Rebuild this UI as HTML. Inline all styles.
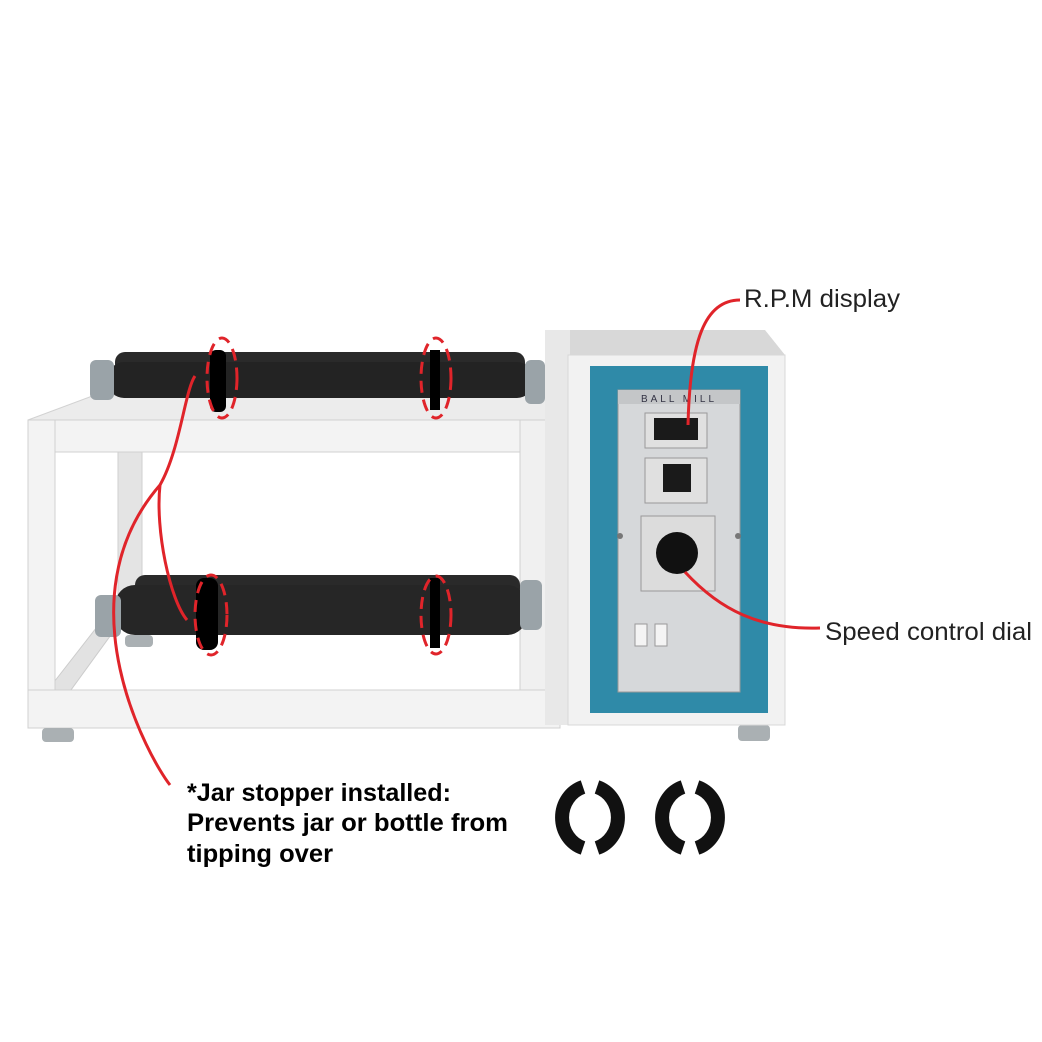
<!DOCTYPE html>
<html><head><meta charset="utf-8"><style>
html,body{margin:0;padding:0;background:#fff;}
svg{display:block;}
text{font-family:"Liberation Sans","DejaVu Sans",sans-serif;}
</style></head><body>
<svg width="1042" height="1042" viewBox="0 0 1042 1042" xmlns="http://www.w3.org/2000/svg">
<rect width="1042" height="1042" fill="#fff"/>
<!-- back frame -->
<rect x="118" y="398" width="24" height="212" fill="#e4e4e4" stroke="#cfcfcf"/>
<polygon points="28,420 95,395 560,395 560,420" fill="#ececec" stroke="#d2d2d2"/>
<polygon points="40,700 118,600 132,606 60,705" fill="#e2e2e2" stroke="#ccc"/>
<!-- top rollers -->
<rect x="115" y="352" width="410" height="22" rx="10" fill="#2a2a2a"/>
<rect x="108" y="362" width="425" height="36" rx="16" fill="#232323"/>
<rect x="90" y="360" width="24" height="40" rx="6" fill="#9aa3a8"/>
<rect x="525" y="360" width="20" height="44" rx="6" fill="#9aa3a8"/>
<!-- front frame -->
<rect x="28" y="420" width="532" height="32" fill="#f3f3f3" stroke="#d0d0d0"/>
<rect x="28" y="420" width="27" height="308" fill="#f3f3f3" stroke="#d0d0d0"/>
<rect x="520" y="420" width="30" height="308" fill="#f0f0f0" stroke="#d0d0d0"/>
<!-- bottom rollers -->
<rect x="135" y="575" width="385" height="24" rx="10" fill="#2a2a2a"/>
<rect x="115" y="585" width="412" height="50" rx="20" fill="#262626"/>
<rect x="95" y="595" width="26" height="42" rx="6" fill="#9aa3a8"/>
<rect x="520" y="580" width="22" height="50" rx="6" fill="#9aa3a8"/>
<rect x="125" y="635" width="28" height="12" rx="4" fill="#aab0b3"/>
<rect x="28" y="690" width="532" height="38" fill="#f3f3f3" stroke="#d0d0d0"/>
<rect x="42" y="728" width="32" height="14" rx="4" fill="#aab0b3"/>
<rect x="738" y="725" width="32" height="16" rx="4" fill="#aab0b3"/>
<!-- clamps on rollers -->
<rect x="210" y="350" width="16" height="62" rx="6" fill="#000"/>
<rect x="430" y="350" width="10" height="60" fill="#000"/>
<rect x="196" y="578" width="22" height="72" rx="8" fill="#000"/>
<rect x="430" y="578" width="10" height="70" fill="#000"/>
<g fill="none" stroke="#e0242a" stroke-width="3" stroke-dasharray="12,7">
<ellipse cx="222" cy="378" rx="15" ry="40"/>
<ellipse cx="436" cy="378" rx="15" ry="40"/>
<ellipse cx="211" cy="615" rx="16" ry="40"/>
<ellipse cx="436" cy="615" rx="15" ry="39"/>
</g>
<!-- cabinet -->
<polygon points="545,330 765,330 785,355 568,355" fill="#d8d8d8"/>
<rect x="545" y="330" width="25" height="395" fill="#e8e8e8"/>
<rect x="568" y="355" width="217" height="370" fill="#f2f2f2" stroke="#d8d8d8"/>
<rect x="590" y="366" width="178" height="347" fill="#2f8aa8"/>
<rect x="618" y="390" width="122" height="302" fill="#d6d8da" stroke="#999"/>
<rect x="618" y="390" width="122" height="14" fill="#c4c6c8"/>
<text x="679" y="402" font-size="10" text-anchor="middle" fill="#334" letter-spacing="3">BALL MILL</text>
<rect x="645" y="413" width="62" height="35" fill="#e0e0e0" stroke="#999"/>
<rect x="654" y="418" width="44" height="22" fill="#1a1a1a"/>
<rect x="645" y="458" width="62" height="45" fill="#e0e0e0" stroke="#999"/>
<rect x="663" y="464" width="28" height="28" fill="#1a1a1a"/>
<rect x="641" y="516" width="74" height="75" fill="#dcdcdc" stroke="#999"/>
<circle cx="677" cy="553" r="21" fill="#111"/>
<rect x="635" y="624" width="12" height="22" fill="#f4f4f4" stroke="#999"/>
<rect x="655" y="624" width="12" height="22" fill="#f4f4f4" stroke="#999"/>
<circle cx="620" cy="536" r="3" fill="#777"/><circle cx="738" cy="536" r="3" fill="#777"/>
<!-- loose clamps -->
<g fill="none" stroke="#111" stroke-width="14">
<path d="M583,787 A30,32 0 0,0 583,848"/>
<path d="M597,787 A30,32 0 0,1 597,848"/>
<path d="M683,787 A30,32 0 0,0 683,848"/>
<path d="M697,787 A30,32 0 0,1 697,848"/>
</g>
<!-- callout lines -->
<g fill="none" stroke="#e0242a" stroke-width="3">
<path d="M170,785 C150,760 60,600 160,485 C180,450 185,390 195,376"/>
<path d="M160,485 C155,530 170,600 187,620"/>
<path d="M740,300 C705,300 690,340 688,425"/>
<path d="M820,628 C760,630 720,610 685,572"/>
</g>
<text x="744" y="307" font-size="25" fill="#222" textLength="156" lengthAdjust="spacingAndGlyphs">R.P.M display</text>
<text x="825" y="640" font-size="25" fill="#222" textLength="207" lengthAdjust="spacingAndGlyphs">Speed control dial</text>
<g font-weight="bold" font-size="25" fill="#000">
<text x="187" y="801" textLength="264" lengthAdjust="spacingAndGlyphs">*Jar stopper installed:</text>
<text x="187" y="831" textLength="321" lengthAdjust="spacingAndGlyphs">Prevents jar or bottle from</text>
<text x="187" y="862" textLength="146" lengthAdjust="spacingAndGlyphs">tipping over</text>
</g>
</svg>
</body></html>
